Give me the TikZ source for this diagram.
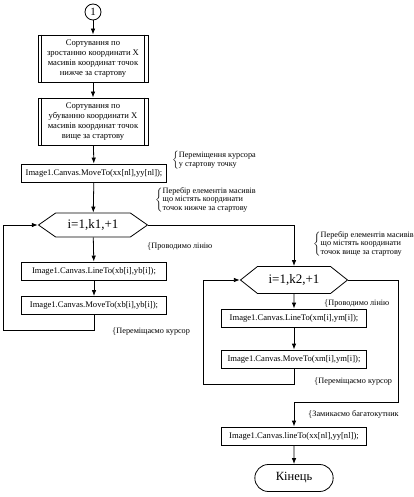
\documentclass[tikz,border=0pt]{standalone}
\usepackage{fontspec}
\setmainfont{Liberation Serif}
\usetikzlibrary{arrows.meta,shapes.symbols,shapes.misc}

\begin{document}
\begin{tikzpicture}[x=1pt,y=-1pt,
    box/.style={rectangle,draw,line width=0.8pt,font=\fontsize{8.6}{10}\selectfont,align=center,inner sep=1pt,minimum width=145pt,minimum height=18pt},
    predef/.style={box,minimum width=110pt,minimum height=47pt},
    cond/.style={signal,signal to=east and west,draw,line width=0.8pt,font=\fontsize{13}{15}\selectfont,inner sep=0pt},
    term/.style={rounded rectangle,draw,line width=0.8pt,font=\fontsize{12.5}{15}\selectfont,minimum width=85pt,minimum height=27pt},
    note/.style={anchor=west,inner sep=0pt,font=\fontsize{8.2}{8.7}\selectfont},
    arr/.style={line width=0.8pt,-{Latex[length=6pt,width=4.5pt]}}]
\useasboundingbox (0,0) rectangle (414,497);

\node[circle,draw,line width=0.8pt,minimum size=16pt,inner sep=0pt,font=\fontsize{11}{12}\selectfont] (c1) at (93,12) {1};
\node[predef] (s1) at (93,58.5) {Сортування по\\зростанню координати Х\\масивів координат точок\\нижче за стартову};
\node[predef] (s2) at (93,121.5) {Сортування по\\убуванню координати Х\\масивів координат точок\\вище за стартову};
\node[box] (m0) at (94,173) {Image1.Canvas.MoveTo(xx[nl],yy[nl]);};
\node[cond,minimum width=109pt,minimum height=24pt,signal pointer angle=70] (h1) at (93,225) {i=1,k1,+1};
\node[box] (l1) at (94,271) {Image1.Canvas.LineTo(xb[i],yb[i]);};
\node[box] (m1) at (94,305.5) {Image1.Canvas.MoveTo(xb[i],yb[i]);};

\node[cond,minimum width=107pt,minimum height=27pt,signal pointer angle=77] (h2) at (294,280) {i=1,k2,+1};
\node[box] (l2) at (294,318) {Image1.Canvas.LineTo(xm[i],ym[i]);};
\node[box] (m2) at (294,359) {Image1.Canvas.MoveTo(xm[i],ym[i]);};
\node[box] (f) at (294,436) {Image1.Canvas.lineTo(xx[nl],yy[nl]);};
\node[term] (e) at (294,478) {Кінець};

\foreach \n in {s1,s2}{
  \draw[line width=0.8pt] ([xshift=4pt]\n.north west) -- ([xshift=4pt]\n.south west);
  \draw[line width=0.8pt] ([xshift=-4pt]\n.north east) -- ([xshift=-4pt]\n.south east);
}

\coordinate (lb1) at (3,330);
\coordinate (lb2) at (203,384);
\coordinate (rb2) at (398,402);

\draw[arr] (c1) -- (s1);
\draw[arr] (s1) -- (s2);
\draw[arr] (s2) -- (m0);
\draw[arr] (m0) -- (h1);
\draw[arr] (h1) -- (l1);
\draw[arr] (l1) -- (m1);
\draw[arr] (m1.south) |- (lb1) |- (h1.west);
\draw[arr] (h1.east) -| (h2.north);
\draw[arr] (h2) -- (l2);
\draw[arr] (l2) -- (m2);
\draw[arr] (m2.south) |- (lb2) |- (h2.west);
\draw[arr] (h2.east) -| (rb2) -| (f.north);
\draw[arr] (f) -- (e);

% comments
\node[note] (n1) at (172,160) {$\left\{\begin{tabular}{@{}l@{}}Переміщення курсора\\у стартову точку\end{tabular}\right.$};
\node[note] (n2) at (155,200) {$\left\{\begin{tabular}{@{}l@{}}Перебір елементів масивів\\що містять координати\\точок нижче за стартову\end{tabular}\right.$};
\node[note] (n3) at (147,246) {$\left\{\mbox{Проводимо лінію}\right.$};
\node[note] (n4) at (112,331) {$\left\{\mbox{Переміщаємо курсор}\right.$};
\node[note] (n5) at (313,244) {$\left\{\begin{tabular}{@{}l@{}}Перебір елементів масивів\\що містять координати\\точок вище за стартову\end{tabular}\right.$};
\node[note] (n6) at (324,303) {$\left\{\mbox{Проводимо лінію}\right.$};
\node[note] (n7) at (314,381) {$\left\{\mbox{Переміщаємо курсор}\right.$};
\node[note] (n8) at (308,414) {$\left\{\mbox{Замикаємо багатокутник}\right.$};
\end{tikzpicture}
\end{document}
